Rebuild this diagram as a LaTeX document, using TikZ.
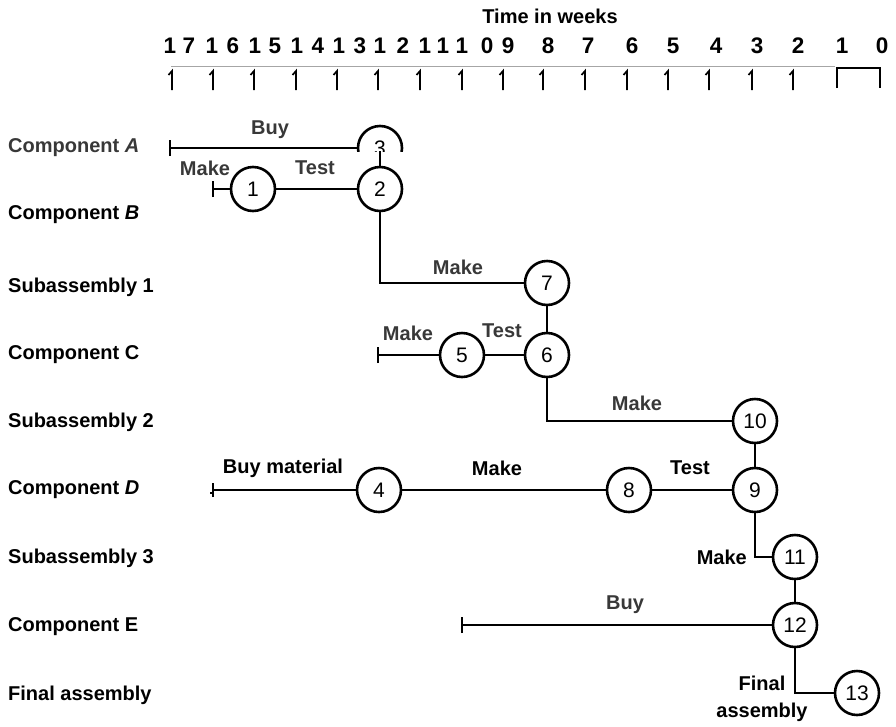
\documentclass[tikz,border=0pt]{standalone}
\usepackage{fontspec}
\setmainfont{Liberation Sans}
\begin{document}
\begin{tikzpicture}[x=1pt,y=-1pt,
  ev/.style={circle,draw,line width=2.6pt,minimum size=44pt,inner sep=0pt,
    font=\fontsize{21}{21}\selectfont},
  link/.style={line width=1.9pt},
  rowlabel/.style={anchor=west,inner sep=0pt,font=\bfseries\fontsize{20}{20}\selectfont},
  actlabel/.style={inner sep=0pt,font=\bfseries\fontsize{20}{20}\selectfont},
  faded/.style={text=black!78},
  axisdigit/.style={inner sep=0pt,font=\bfseries\fontsize{22.5}{22.5}\selectfont},
  tickmark/.style={line width=1.7pt},
  startbar/.style={line width=1.9pt}
]
\useasboundingbox (0,0) rectangle (896,726);

% ---------- time axis ----------
\node[inner sep=0pt,font=\bfseries\fontsize{20}{20}\selectfont] (title) at (550,16) {Time in weeks};
\foreach \x/\d [count=\i] in {170/1,189/7,212/1,233/6,255/1,275/5,297/1,318/4,339/1,360/3,
    380/1,403/2,425/1,443/1,462/1,487/0,508/9,548/8,588/7,632/6,673/5,716/4,757/3,798/2,842/1,882/0}
  \node[axisdigit] (d\i) at (\x,46) {\d};
\draw[black!35,line width=1pt] (171,66) -- (835,66);
\foreach \x in {172,213,254,296,337,378,420,462,503,543,585,627,668,709,752,793}
  \draw[tickmark] (\x-3.5,75) -- (\x,71) -- (\x,90);
\draw[line width=2.6pt] (837,88) -- (837,68) -- (880,68) -- (880,88);

% ---------- row labels ----------
\node[rowlabel,faded] (rA) at (8,148) {Component \textit{A}};
\node[rowlabel] (rB) at (8,215) {Component \textit{B}};
\node[rowlabel] (rS1) at (8,287) {Subassembly 1};
\node[rowlabel] (rC) at (8,355) {Component C};
\node[rowlabel] (rS2) at (8,422) {Subassembly 2};
\node[rowlabel] (rD) at (8,490) {Component \textit{D}};
\node[rowlabel] (rS3) at (8,558) {Subassembly 3};
\node[rowlabel] (rE) at (8,627) {Component E};
\node[rowlabel] (rF) at (8,695) {Final assembly};

% ---------- events ----------
\begin{scope}
  \clip (330,100) rectangle (430,151);
  \node[ev] (n3) at (380,148) {3};
\end{scope}
\coordinate (c3) at (380,151);
\node[ev] (n1) at (253,189) {1};
\node[ev] (n2) at (380,189) {2};
\node[ev] (n7) at (547,283) {7};
\node[ev] (n5) at (462,355) {5};
\node[ev] (n6) at (547,355) {6};
\node[ev] (n10) at (755,421) {10};
\node[ev] (n4) at (379,490) {4};
\node[ev] (n8) at (629,490) {8};
\node[ev] (n9) at (755,490) {9};
\node[ev] (n11) at (795,557) {11};
\node[ev] (n12) at (795,625) {12};
\node[ev] (n13) at (857,693) {13};

% ---------- activity start points ----------
\coordinate (sA) at (170,148);
\coordinate (sB) at (213,189);
\coordinate (sC) at (378,355);
\coordinate (sD) at (213,490);
\coordinate (sE) at (462,625);
\foreach \s in {sA,sB,sC,sE}
  \draw[startbar] ([yshift=-8pt]\s) -- ([yshift=8pt]\s);
\draw[line width=1.6pt] ([yshift=-7pt]sD) -- ([yshift=7pt]sD) ([xshift=-3pt,yshift=-3pt]sD) -- ([xshift=1pt,yshift=-3pt]sD);

% ---------- activities ----------
\draw[link] (sA) -- (n3.west);
\draw[link] (c3) -- (n2.north);
\draw[link] (sB) -- (n1) -- (n2);
\draw[link] (n2.south) |- (n7.west);
\draw[link] (n7) -- (n6);
\draw[link] (sC) -- (n5) -- (n6);
\draw[link] (n6.south) |- (n10.west);
\draw[link] (n10) -- (n9);
\draw[link] (sD) -- (n4) -- (n8) -- (n9);
\draw[link] (n9.south) |- (n11.west);
\draw[link] (n11) -- (n12);
\draw[link] (sE) -- (n12);
\draw[link] (n12.south) |- (n13.west);

% ---------- activity labels ----------
\node[actlabel,faded] (lBuyA) at (270,130) {Buy};
\node[actlabel,faded] (lMakeB) at (205,168) {Make};
\node[actlabel,faded] (lTestB) at (315,168) {Test};
\node[actlabel,faded] (lMakeS1) at (458,267) {Make};
\node[actlabel,faded] (lMakeC) at (408,333) {Make};
\node[actlabel,faded] (lTestC) at (502,331) {Test};
\node[actlabel,faded] (lMakeS2) at (637,403) {Make};
\node[actlabel] (lBuyD) at (283,468) {Buy material};
\node[actlabel] (lMakeD) at (497,468) {Make};
\node[actlabel] (lTestD) at (690,468) {Test};
\node[actlabel,anchor=east] (lMakeS3) at (747,557) {Make};
\node[actlabel,faded] (lBuyE) at (625,605) {Buy};
\node[actlabel,align=center,font=\bfseries\fontsize{20}{27}\selectfont] (lFinal) at (762,699) {Final\\assembly};
\end{tikzpicture}
\end{document}
